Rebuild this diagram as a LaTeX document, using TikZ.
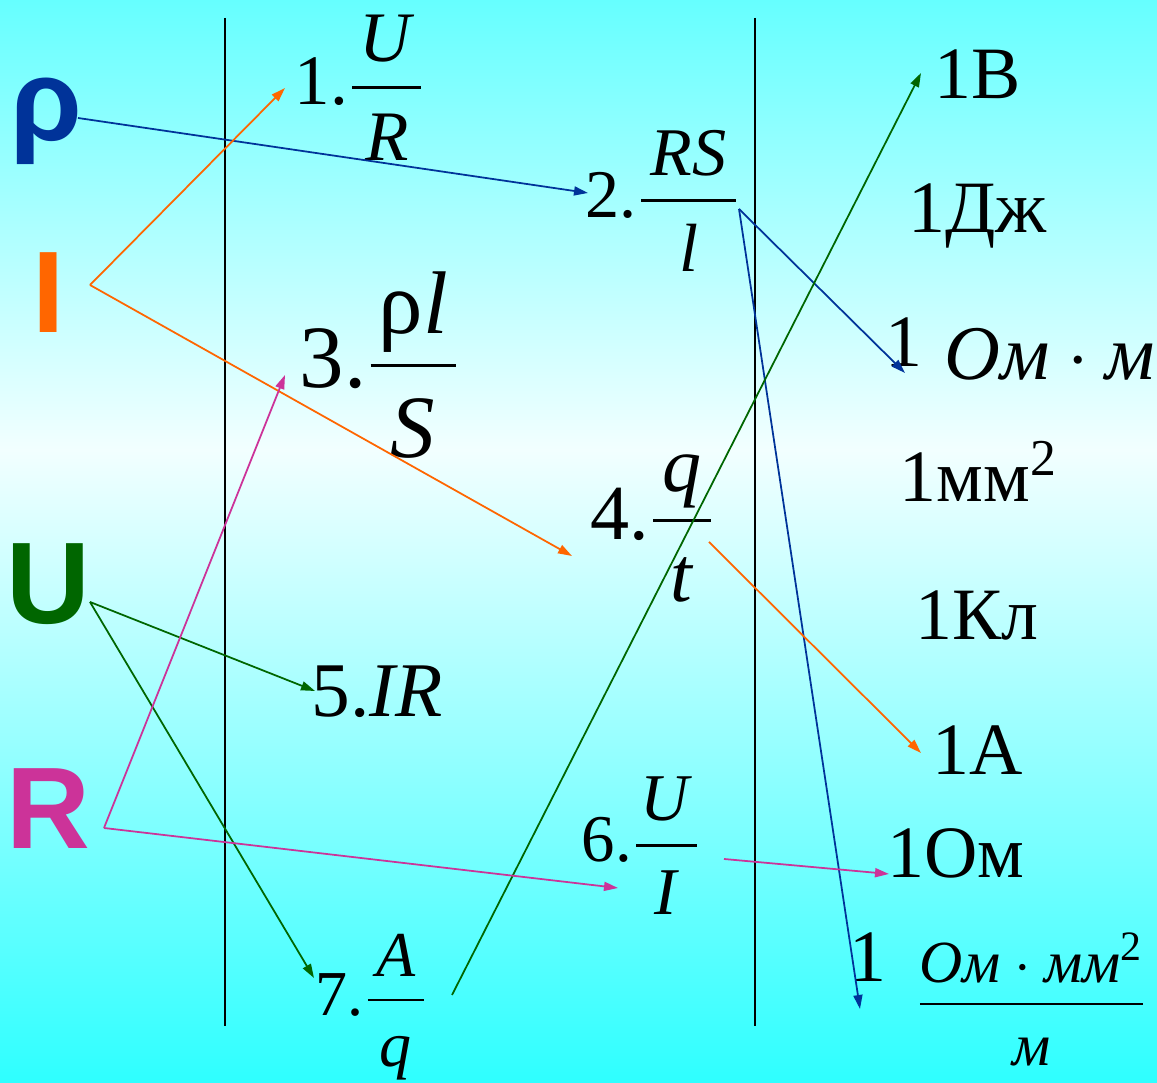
\RequirePackage{fix-cm}
\documentclass[tikz,border=0pt]{standalone}
\usepackage{amsmath}
\usepackage{fontspec}
\setmainfont{Liberation Serif}
\setsansfont{Liberation Sans}
\usetikzlibrary{arrows.meta}

\definecolor{rhoblue}{HTML}{003399}
\definecolor{curorange}{HTML}{FF6600}
\definecolor{voltgreen}{HTML}{006600}
\definecolor{resmagenta}{HTML}{CC3399}
\definecolor{bgtop}{HTML}{66FFFF}
\definecolor{bgmid}{HTML}{F2FFFF}
\definecolor{bgbot}{HTML}{2EFFFF}

\newcommand\fsz[1]{\fontsize{#1pt}{#1pt}\selectfont}
% fraction with a fixed rule width
\newcommand\frc[3]{\dfrac{\makebox[#1]{\raisebox{-0.06em}[0pt][0pt]{#2}}}{\makebox[#1]{\raisebox{-0.1em}[0pt][0pt]{#3}}}}

\begin{document}
\begin{tikzpicture}[
  x=0.01cm, y=-0.01cm,
  letter/.style={inner sep=0pt, anchor=base west, font=\fsz{33}\sffamily\bfseries},
  formula/.style={inner sep=0pt, anchor=base west},
  unit/.style={inner sep=0pt, anchor=base west, font=\fsz{21}},
  column/.style={line width=0.75pt},
  link/.style={line width=0.5pt, -{Triangle[length=1.4mm, width=0.9mm]}}
]
\useasboundingbox (0,0) rectangle (1157,1083);
\shade[top color=bgtop, bottom color=bgmid] (0,0) rectangle (1157,450);
\shade[top color=bgmid, bottom color=bgbot] (0,450) rectangle (1157,1083);

% columns
\draw[column] (225,18) -- (225,1026);
\draw[column] (755,18) -- (755,1026);

% quantities
\node[letter, text=rhoblue] (rho) at (10,141) {ρ};
\node[letter, text=curorange] (cur) at (32,333) {I};
\node[letter, text=voltgreen] (volt) at (6,624) {U};
\node[letter, text=resmagenta] (res) at (6,849) {R};

% formulas
\node[formula, font=\fsz{20.2}] (f1) at (294,105) {1.$\frc{0.69cm}{\textit{U}}{\textit{R}}$};
\node[formula, font=\fsz{19.4}] (f2) at (585,218) {2.$\frc{0.95cm}{\textit{RS}}{\textit{l}}$};
\node[formula, font=\fsz{25.3}] (f3) at (299,388) {3.$\frc{0.85cm}{ρ\textit{l}}{\textit{S}}$};
\node[formula, font=\fsz{22.2}] (f4) at (590,540) {4.$\frc{0.57cm}{\textit{q}}{\textit{t}}$};
\node[formula, font=\fsz{22}] (f5) at (311,717) {5.\textit{IR}};
\node[formula, font=\fsz{19}] (f6) at (581,862) {6.$\frc{0.61cm}{\textit{U}}{\textit{I}}$};
\node[formula, font=\fsz{18.2}] (f7) at (315,1016) {7.$\frc{0.56cm}{\textit{A}}{\textit{q}}$};

% units
\node[unit] (volt1) at (934,99) {1В};
\node[unit] (joule1) at (908,233) {1Дж};
\node[unit] (ohmm1) at (885,367) {1};
\node[unit, font=\fsz{22}] (ohmm) at (944,380) {$\textit{Ом}\cdot\textit{м}$};
\node[unit] (mm1) at (899,502) {1мм\textsuperscript{2}};
\node[unit] (coul1) at (915,640) {1Кл};
\node[unit] (amp1) at (932,775) {1А};
\node[unit] (ohm1) at (887,878) {1Ом};
\node[unit] (spec1) at (849,982) {1};
\node[unit, font=\fsz{17}] (spec) at (915,1019) {$\frc{2.23cm}{$\textit{Ом}\cdot\textit{мм}^{\textrm{2}}$}{\textit{м}}$};

% arrow ends
\coordinate (rhoout) at (78,118);
\coordinate (f2in) at (588,193);
\coordinate (f2out) at (739,209);
\coordinate (ohmmin) at (905,373);
\coordinate (specin) at (860,1009);
\coordinate (curv) at (90,285);
\coordinate (f1in) at (285,88);
\coordinate (f4in) at (572,556);
\coordinate (f4out) at (709,542);
\coordinate (ampin) at (921,753);
\coordinate (voltv) at (90,602);
\coordinate (f5in) at (315,691);
\coordinate (f7in) at (314,978);
\coordinate (f7out) at (452,995);
\coordinate (voltin) at (921,73);
\coordinate (resv) at (104,828);
\coordinate (f3in) at (285,375);
\coordinate (f6in) at (618,888);
\coordinate (f6out) at (724,859);
\coordinate (ohmin) at (889,874);

\draw[link, rhoblue] (rhoout) -- (f2in);
\draw[link, rhoblue] (f2out) -- (ohmmin);
\draw[link, rhoblue] (f2out) -- (specin);
\draw[link, curorange] (curv) -- (f1in);
\draw[link, curorange] (curv) -- (f4in);
\draw[link, curorange] (f4out) -- (ampin);
\draw[link, voltgreen] (voltv) -- (f5in);
\draw[link, voltgreen] (voltv) -- (f7in);
\draw[link, voltgreen] (f7out) -- (voltin);
\draw[link, resmagenta] (resv) -- (f3in);
\draw[link, resmagenta] (resv) -- (f6in);
\draw[link, resmagenta] (f6out) -- (ohmin);
\end{tikzpicture}
\end{document}
